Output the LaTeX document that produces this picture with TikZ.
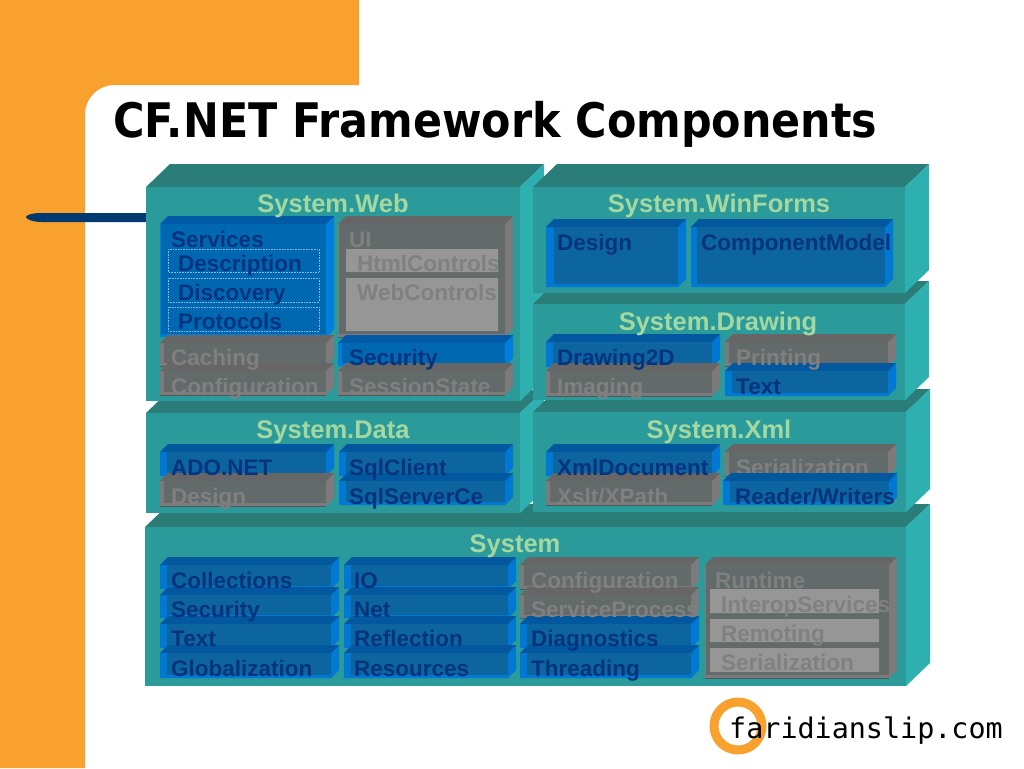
\documentclass[tikz,border=0pt]{standalone}
\usepackage{fontspec}
\setmainfont{Liberation Sans}
\newfontfamily\titlefont{DejaVu Sans Condensed}
\newfontfamily\logofont{DejaVu Sans Mono}
\definecolor{slide}{HTML}{F9A12E}
\definecolor{navy}{HTML}{003A70}
\definecolor{tealfront}{HTML}{2A9A9A}
\definecolor{tealside}{HTML}{2FB0B0}
\definecolor{tealtop}{HTML}{2A7D78}
\definecolor{titlegreen}{HTML}{A5D8A0}
\definecolor{bluetext}{HTML}{06337F}
\definecolor{greytext}{HTML}{808080}
\definecolor{dotline}{HTML}{7FB8E0}
\tikzstyle{panelfront}=[fill=tealfront]
\tikzstyle{panelside}=[fill=tealside]
\tikzstyle{paneltop}=[fill=tealtop]
\tikzstyle{blueside}=[fill={rgb,255:red,0;green,120;blue,212}]
\tikzstyle{bluetop}=[fill={rgb,255:red,1;green,88;blue,158}]
\tikzstyle{bluefront}=[fill={rgb,255:red,12;green,101;blue,159}]
\tikzstyle{blueedge}=[draw=none]
\tikzstyle{brightside}=[fill={rgb,255:red,0;green,126;blue,222}]
\tikzstyle{brighttop}=[fill={rgb,255:red,1;green,90;blue,165}]
\tikzstyle{brightfront}=[fill={rgb,255:red,0;green,104;blue,176}]
\tikzstyle{brightedge}=[draw=none]
\tikzstyle{greyside}=[fill={rgb,255:red,124;green,122;blue,122}]
\tikzstyle{greytop}=[fill={rgb,255:red,102;green,102;blue,102}]
\tikzstyle{greyfront}=[fill={rgb,255:red,98;green,106;blue,106}]
\tikzstyle{greyedge}=[draw={rgb,255:red,82;green,88;blue,88},line width=.8pt]
\tikzstyle{lightpane}=[fill={rgb,255:red,150;green,150;blue,150}]
\tikzstyle{heading}=[anchor=base,text=titlegreen,font=\fontsize{25.5}{27}\selectfont\bfseries]
\tikzstyle{bluelabel}=[anchor=base west,inner sep=0pt,text=bluetext,font=\fontsize{22.5}{24}\selectfont\bfseries]
\tikzstyle{greylabel}=[anchor=base west,inner sep=0pt,text=greytext,font=\fontsize{22.5}{24}\selectfont\bfseries]
\newcommand{\heading}{\node[heading]}
\newcommand{\bluelabel}{\node[bluelabel]}
\newcommand{\greylabel}{\node[greylabel]}
% large teal slab: front rectangle x0,y0,x1,y1
\newcommand{\slab}[4]{
  \fill[paneltop] (#1,#2) -- (#1+24,#2-23) -- (#3+24,#2-23) -- (#3,#2) -- cycle;
  \fill[panelside] (#3,#2) -- (#3+24,#2-23) -- (#3+24,#4-23) -- (#3,#4) -- cycle;
  \fill[panelfront] (#1,#2) rectangle (#3,#4);
}
% small box: outline x0,y0,x1,y1, kind, left inset of the front
\newcommand{\brick}[6]{
  \fill[#5side] (#1,#2+8) -- (#1+8,#2) -- (#3,#2) -- (#3,#4-8) -- (#3-8,#4) -- (#1,#4) -- cycle;
  \fill[#5top] (#1,#2+8) -- (#1+8,#2) -- (#3,#2) -- (#3-8,#2+8) -- cycle;
  \fill[#5front] (#1+#6,#2+8) rectangle (#3-8,#4-3);
  \path[#5edge] (#1,#4) -- (#3-8,#4);
}
\begin{document}
\begin{tikzpicture}[x=1pt, y=-1pt]
\useasboundingbox (0,0) rectangle (1024,768);
% slide
\fill[slide] (0,0) -- (359,0) -- (359,85) -- (115,85) .. controls (98,85) and (85,98) .. (85,115) -- (85,768) -- (0,768) -- cycle;
\node[anchor=base west,inner sep=0pt,font=\titlefont\fontsize{47.6}{50}\selectfont\bfseries] (title) at (113,137) {CF.NET Framework Components};
\fill[navy] (146,213) -- (42,213) .. controls (32,213) and (26,215) .. (26,217) .. controls (26,219) and (32,222) .. (42,222) -- (146,222) -- cycle;
% teal slabs
\slab{145}{527}{906}{686}
\slab{146}{413}{520}{513}
\slab{146}{187}{520}{401}
\slab{533}{412}{906}{512}
\slab{533}{304}{905}{400}
\slab{533}{187}{905}{293}
% System.Web
\brick{160}{216}{334}{337}{bright}{1}
\brick{338}{216}{513}{337}{grey}{1}
\brick{160}{335}{334}{366}{grey}{4}
\brick{338}{335}{513}{366}{bright}{4}
\brick{160}{363}{334}{395}{grey}{4}
\brick{338}{363}{513}{395}{grey}{4}
\draw[dotline,densely dotted,line width=.6pt] (168,249) rectangle (319,272) (168,278) rectangle (319,302) (168,307) rectangle (319,331);
\fill[lightpane] (346,249) rectangle (498,272) (346,278) rectangle (498,331);
% System.WinForms
\brick{546}{219}{686}{287}{blue}{8}
\brick{691}{219}{893}{287}{blue}{6}
% System.Drawing
\brick{546}{334}{720}{367}{blue}{7}
\brick{725}{334}{896}{366}{grey}{4}
\brick{546}{363}{720}{396}{grey}{4}
\brick{725}{363}{896}{396}{blue}{7}
% System.Data
\brick{160}{444}{334}{476}{blue}{7}
\brick{339}{444}{513}{476}{blue}{7}
\brick{160}{473}{334}{506}{grey}{4}
\brick{339}{473}{513}{505}{blue}{7}
% System.Xml
\brick{546}{444}{720}{476}{blue}{7}
\brick{725}{444}{896}{476}{grey}{4}
\greylabel (xmlser) at (736,475) {Serialization};
\brick{546}{473}{720}{505}{grey}{4}
\brick{723}{473}{897}{505}{blue}{7}
% System
\foreach \top/\bot [count=\i] in {557/589,587/618,616/648,645/678}{
  \brick{160}{\top}{339}{\bot}{blue}{7}
  \brick{344}{\top}{516}{\bot}{blue}{7}
  \ifnum\i<3
    \brick{520}{\top}{699}{\bot}{grey}{4}
  \else
    \brick{520}{\top}{699}{\bot}{blue}{7}
  \fi
}
\brick{705}{557}{897}{678}{grey}{1}
\fill[lightpane] (710,589) rectangle (879,613) (710,619) rectangle (879,642) (710,648) rectangle (879,672);
% headings
\heading (web) at (333,212) {System.Web};
\heading (winforms) at (719,212) {System.WinForms};
\heading (drawing) at (718,330) {System.Drawing};
\heading (data) at (333,438) {System.Data};
\heading (xml) at (719,438) {System.Xml};
\heading (system) at (515,552) {System};
% labels
\bluelabel (services) at (171,247) {Services};
\bluelabel (description) at (178,271) {Description};
\bluelabel (discovery) at (178,300) {Discovery};
\bluelabel (protocols) at (178,329) {Protocols};
\greylabel (ui) at (349,247) {UI};
\greylabel (htmlcontrols) at (357,271) {HtmlControls};
\greylabel (webcontrols) at (357,300) {WebControls};
\greylabel (caching) at (171,365) {Caching};
\bluelabel (websecurity) at (349,365) {Security};
\greylabel (webconfig) at (171,394) {Configuration};
\greylabel (sessionstate) at (349,394) {SessionState};
\bluelabel (formsdesign) at (557,250) {Design};
\bluelabel (componentmodel) at (701,250) {ComponentModel};
\bluelabel (drawingtwod) at (557,365) {Drawing2D};
\greylabel (printing) at (736,365) {Printing};
\greylabel (imaging) at (557,394) {Imaging};
\bluelabel (drawingtext) at (736,394) {Text};
\bluelabel (adonet) at (171,475) {ADO.NET};
\bluelabel (sqlclient) at (349,475) {SqlClient};
\greylabel (datadesign) at (171,504) {Design};
\bluelabel (sqlserverce) at (349,504) {SqlServerCe};
\bluelabel (xmldocument) at (557,475) {XmlDocument};
\greylabel (xslt) at (557,504) {Xslt/XPath};
\bluelabel (readerwriters) at (735,504) {Reader/Writers};
\bluelabel (collections) at (171,588) {Collections};
\bluelabel (syssecurity) at (171,617) {Security};
\bluelabel (systext) at (171,646) {Text};
\bluelabel (globalization) at (171,676) {Globalization};
\bluelabel (io) at (354,588) {IO};
\bluelabel (net) at (354,617) {Net};
\bluelabel (reflection) at (354,646) {Reflection};
\bluelabel (resources) at (354,676) {Resources};
\greylabel (sysconfig) at (531,588) {Configuration};
\greylabel (serviceprocess) at (531,617) {ServiceProcess};
\bluelabel (diagnostics) at (531,646) {Diagnostics};
\bluelabel (threading) at (531,676) {Threading};
\greylabel (runtime) at (715,588) {Runtime};
\greylabel (interop) at (721,612) {InteropServices};
\greylabel (remoting) at (721,641) {Remoting};
\greylabel (sysser) at (721,670) {Serialization};
% logo
\draw[slide,line width=9pt] (738,726) circle (24);
\node[anchor=base west,inner sep=0pt,font=\logofont\fontsize{28.4}{30}\selectfont] (logo) at (729,738) {faridianslip.com};
\end{tikzpicture}
\end{document}
